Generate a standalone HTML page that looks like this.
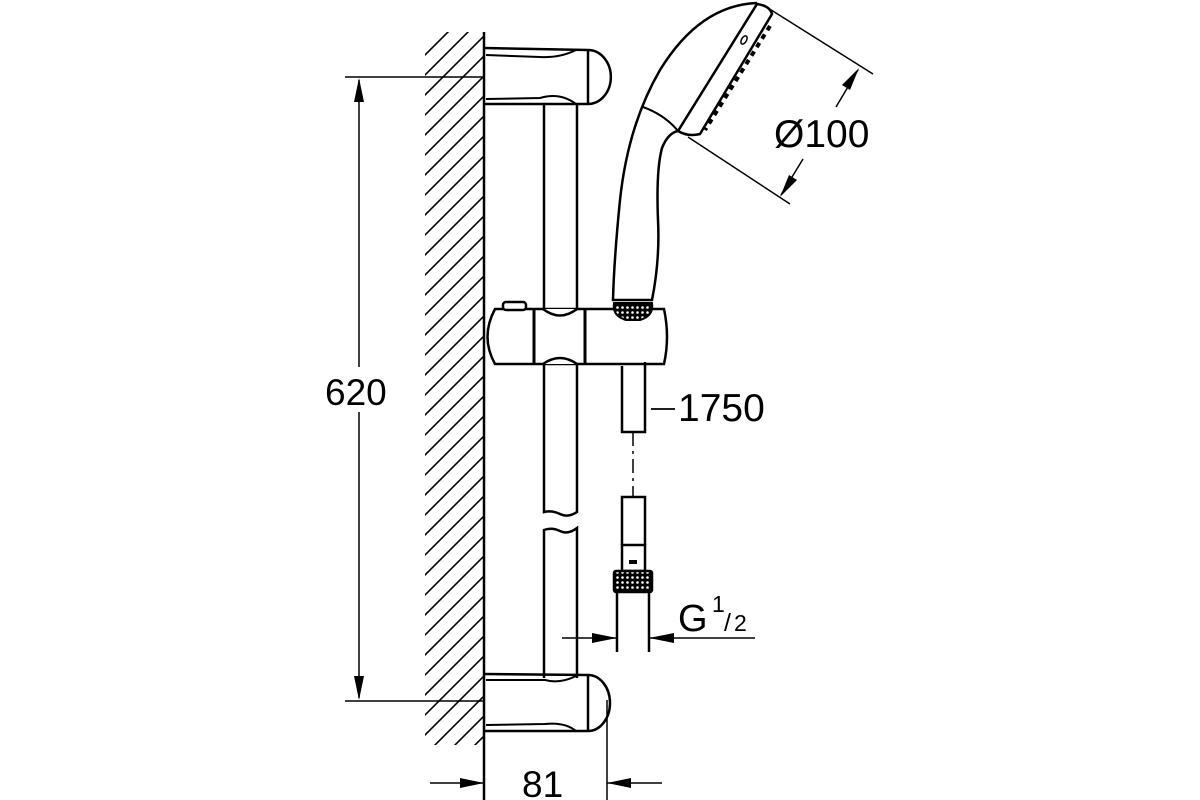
<!DOCTYPE html>
<html><head><meta charset="utf-8"><style>
html,body{margin:0;padding:0;background:#fff;width:1200px;height:800px;overflow:hidden}
svg{display:block}
text{font-family:"Liberation Sans",sans-serif;fill:#000}
</style></head><body>
<svg width="1200" height="800" viewBox="0 0 1200 800" xmlns="http://www.w3.org/2000/svg">
<defs>
<clipPath id="hc"><rect x="425" y="32" width="58" height="713"/></clipPath>
<pattern id="knurl" width="5" height="5" patternUnits="userSpaceOnUse">
<rect width="5" height="5" fill="#000"/><circle cx="2.5" cy="2.5" r="1.3" fill="#fff"/></pattern>
</defs>
<g stroke="#000" fill="none" stroke-width="2">
<g clip-path="url(#hc)" stroke-width="1.6">
<path d="M400 80 L500 -20 M400 100 L500 0 M400 120 L500 20 M400 140 L500 40 M400 160 L500 60 M400 180 L500 80 M400 200 L500 100 M400 220 L500 120 M400 240 L500 140 M400 260 L500 160 M400 280 L500 180 M400 300 L500 200 M400 320 L500 220 M400 340 L500 240 M400 360 L500 260 M400 380 L500 280 M400 400 L500 300 M400 420 L500 320 M400 440 L500 340 M400 460 L500 360 M400 480 L500 380 M400 500 L500 400 M400 520 L500 420 M400 540 L500 440 M400 560 L500 460 M400 580 L500 480 M400 600 L500 500 M400 620 L500 520 M400 640 L500 540 M400 660 L500 560 M400 680 L500 580 M400 700 L500 600 M400 720 L500 620 M400 740 L500 640 M400 760 L500 660 M400 780 L500 680 M400 800 L500 700 M400 820 L500 720 M400 840 L500 740 M400 860 L500 760"/>
</g>
<line x1="484" y1="32" x2="484" y2="800" stroke-width="2.5"/>
<path d="M484 48 L588 50 A22 26 0 0 1 588 104 L484 104" stroke-width="2.5"/>
<line x1="588" y1="50" x2="588" y2="104" stroke-width="2.5"/>
<path d="M486 55 L540 57 Q560 58 576 50" />
<path d="M486 99 L540 98 Q560 92 576 104" />
<path d="M544 104 L544 512 Q552 510 560 514 Q568 518 577 512 L577 104" stroke-width="2.5"/>
<path d="M544 678 L544 530 Q552 527 560 531 Q568 535 577 528 L577 678" stroke-width="2.5"/>
<path d="M484 674 L588 675 A22 28 0 0 1 588 731 L484 731" stroke-width="2.5"/>
<line x1="588" y1="676" x2="588" y2="730" stroke-width="2.5"/>
<path d="M486 680 L545 680 Q560 684 576 676" />
<path d="M486 725 L545 724 Q565 722 576 731" />
<path d="M495 309 L664 309 Q670 337 664 364 L495 364 Q480 337 495 309 Z" fill="#fff" stroke-width="2.5"/>
<path d="M543 309 Q560 322 577 309 M543 364 Q560 352 577 364" fill="#fff" stroke-width="2.5"/>
<line x1="534" y1="309" x2="534" y2="364" stroke-width="3"/>
<line x1="585" y1="309" x2="585" y2="364" stroke-width="3"/>
<rect x="503" y="302" width="23" height="8" rx="3" fill="#fff" stroke-width="2.5"/>
<path d="M614 303 L652 303 Q654 316 640 320 L626 320 Q612 316 614 303Z" fill="url(#knurl)" stroke-width="2"/>
<path d="M622 366 L622 432 L645 432 L645 362" stroke-width="2.5"/>
<line x1="633" y1="432" x2="633" y2="497" stroke-width="1.5" stroke-dasharray="14 5 3 5"/>
<path d="M622 545 L622 497 L645 497 L645 545" stroke-width="2.5"/>
<rect x="622" y="545" width="23" height="26" stroke-width="2.5"/>
<rect x="630" y="561" width="6" height="2" fill="#000"/>
<rect x="614" y="571" width="38" height="21" rx="2" fill="url(#knurl)" stroke-width="2.5"/>
<path d="M617 592 L617 652 M649 592 L649 652" stroke-width="2.5"/>
<path d="M757 3 Q700 5 660 70 Q628 125 620 200 Q614 260 613 300 L652 300 Q660 260 658 220 Q656 170 662 148 Q668 133 678 131" stroke-width="2.5" fill="none"/>
<path d="M678 131 L757 4 Q770 6 772 14 L700 134 Q688 137 678 131Z" stroke-width="2.5" fill="#fff"/>
<path d="M770 26 L705 130" stroke-width="4" stroke-dasharray="5 5"/>
<path d="M643 107 Q665 115 678 131" stroke-width="2"/>
<ellipse cx="744" cy="40" rx="2.5" ry="4.5" transform="rotate(30 744 40)" stroke-width="1.5"/>
<line x1="768" y1="8" x2="873" y2="74" stroke-width="1.5"/>
<line x1="688" y1="137" x2="790" y2="204" stroke-width="1.5"/>
<line x1="836" y1="107" x2="858" y2="70" stroke-width="1.5"/>
<line x1="803" y1="159" x2="781" y2="195" stroke-width="1.5"/>
<line x1="345" y1="77" x2="484" y2="77" stroke-width="1.5"/>
<line x1="345" y1="701" x2="484" y2="701" stroke-width="1.5"/>
<line x1="359" y1="80" x2="359" y2="367" stroke-width="1.5"/>
<line x1="359" y1="412" x2="359" y2="698" stroke-width="1.5"/>
<line x1="607" y1="700" x2="607" y2="800" stroke-width="1.5"/>
<line x1="430" y1="783" x2="484" y2="783" stroke-width="1.5"/>
<line x1="607" y1="783" x2="662" y2="783" stroke-width="1.5"/>
<line x1="562" y1="638" x2="617" y2="638" stroke-width="1.5"/>
<line x1="649" y1="638" x2="755" y2="638" stroke-width="1.5"/>
<line x1="651" y1="409" x2="675" y2="409" stroke-width="1.8"/>
</g>
<g fill="#000">
<path d="M359 78 L354 102 L364 102Z"/>
<path d="M359 700 L354 676 L364 676Z"/>
<path d="M484 783 L460 778 L460 788Z"/>
<path d="M607 783 L631 778 L631 788Z"/>
<path d="M617 638 L592 633 L592 643Z"/>
<path d="M649 638 L674 633 L674 643Z"/>
<path d="M859 68 L842 85 L850 90Z"/>
<path d="M780 197 L797 180 L789 175Z"/>
</g>
<text x="325" y="405" font-size="37">620</text>
<text x="522" y="797" font-size="37">81</text>
<text x="678" y="421" font-size="39">1750</text>
<text x="774" y="147" font-size="39">Ø100</text>
<text x="678" y="631" font-size="38">G</text>
<text x="712" y="612" font-size="23">1</text>
<text x="724" y="631" font-size="25">/</text>
<text x="734" y="631" font-size="23">2</text>
</svg>
</body></html>
